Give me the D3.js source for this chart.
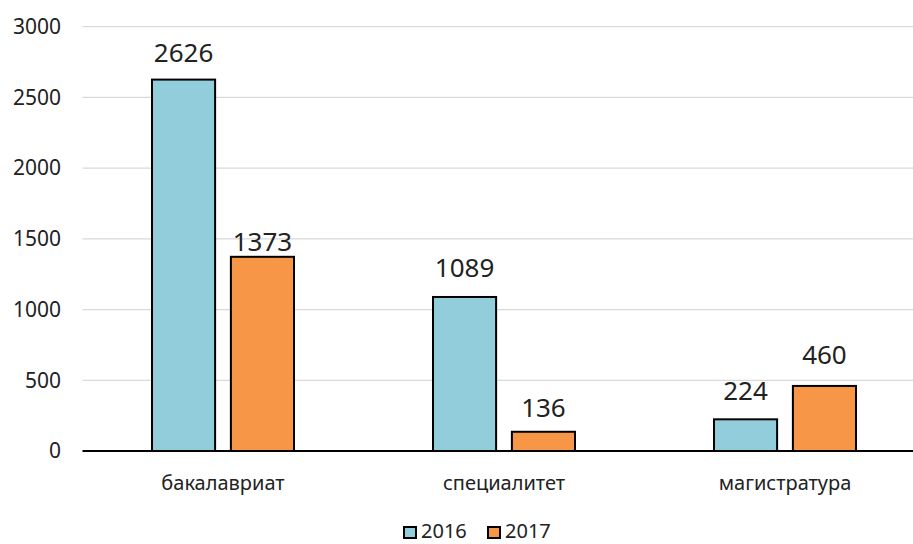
<!DOCTYPE html>
<html>
<head>
<meta charset="utf-8">
<script src="https://cdn.jsdelivr.net/npm/d3@7"></script>
<style>
  body { margin: 0; background: #fff; }
  text { font-family: "Noto Sans", sans-serif; fill: #222; }
</style>
</head>
<body>
<div class="canvas"></div>
<script>
// data
const categories = ["бакалавриат", "специалитет", "магистратура"];
const series = ["2016", "2017"];
const values2016 = [2626, 1089, 224];
const values2017 = [1373, 136, 460];
const yTicks = [0, 500, 1000, 1500, 2000, 2500, 3000];
const colors = ["#92cddc", "#f79646"];

// value labels were placed by hand in the original, gap above each bar (px)
const labelGap = [
  [18, 6],
  [20, 15],
  [19, 22],
];

const dims = { width: 913, height: 544 };
const plot = { left: 82.5, right: 925.5, top: 26.7, bottom: 451 };

const svg = d3
  .select(".canvas")
  .append("svg")
  .attr("width", dims.width)
  .attr("height", dims.height);

const x = d3
  .scaleBand()
  .domain(categories)
  .range([plot.left, plot.right]);

const xInner = d3
  .scaleBand()
  .domain(series)
  .range([69.5, x.bandwidth() - 69.5])
  .paddingInner(0.2);

const y = d3.scaleLinear().domain([0, 3000]).range([plot.bottom, plot.top]);

// gridlines
svg
  .append("g")
  .selectAll("line")
  .data(yTicks.filter((d) => d > 0))
  .enter()
  .append("line")
  .attr("x1", plot.left)
  .attr("x2", plot.right)
  .attr("y1", (d) => y(d))
  .attr("y2", (d) => y(d))
  .attr("stroke", "#d9d9d9")
  .attr("stroke-width", 1.3);

// y tick labels
svg
  .append("g")
  .selectAll("text")
  .data(yTicks)
  .enter()
  .append("text")
  .attr("x", 61)
  .attr("y", (d) => y(d))
  .attr("dy", "0.35em")
  .attr("text-anchor", "end")
  .style("font-size", "21px")
  .text((d) => d);

const rows = categories.map((c, i) => ({
  cat: c,
  vals: [values2016[i], values2017[i]],
  gaps: labelGap[i],
}));

const groups = svg
  .append("g")
  .selectAll("g")
  .data(rows)
  .enter()
  .append("g")
  .attr("transform", (d) => `translate(${x(d.cat)}, 0)`);

const bars = groups
  .selectAll("g")
  .data((d) => d.vals.map((v, j) => ({ s: series[j], v, j, gap: d.gaps[j] })))
  .enter()
  .append("g");

bars
  .append("rect")
  .attr("x", (d) => xInner(d.s))
  .attr("width", xInner.bandwidth())
  .attr("y", (d) => y(d.v))
  .attr("height", (d) => y(0) - y(d.v))
  .attr("fill", (d) => colors[d.j])
  .attr("stroke", "#000")
  .attr("stroke-width", 2);

bars
  .append("text")
  .attr("x", (d) => xInner(d.s) + xInner.bandwidth() / 2)
  .attr("y", (d) => y(d.v) - d.gap)
  .attr("text-anchor", "middle")
  .style("font-size", "26px")
  .text((d) => d.v);

// x axis line
svg
  .append("line")
  .attr("x1", plot.left)
  .attr("x2", plot.right)
  .attr("y1", plot.bottom)
  .attr("y2", plot.bottom)
  .attr("stroke", "#000")
  .attr("stroke-width", 2);

// category labels
svg
  .append("g")
  .selectAll("text")
  .data(categories)
  .enter()
  .append("text")
  .attr("x", (d) => x(d) + x.bandwidth() / 2)
  .attr("y", 490)
  .attr("text-anchor", "middle")
  .style("font-size", "20px")
  .text((d) => d);

// legend
const legendX = [403, 487];
const legend = svg
  .append("g")
  .selectAll("g")
  .data(series)
  .enter()
  .append("g")
  .attr("transform", (d, i) => `translate(${legendX[i]}, 0)`);

legend
  .append("rect")
  .attr("x", 1)
  .attr("y", 527)
  .attr("width", 12)
  .attr("height", 11)
  .attr("fill", (d, i) => colors[i])
  .attr("stroke", "#000")
  .attr("stroke-width", 2);

legend
  .append("text")
  .attr("x", 18)
  .attr("y", 538)
  .style("font-size", "20px")
  .text((d) => d);
</script>
</body>
</html>
